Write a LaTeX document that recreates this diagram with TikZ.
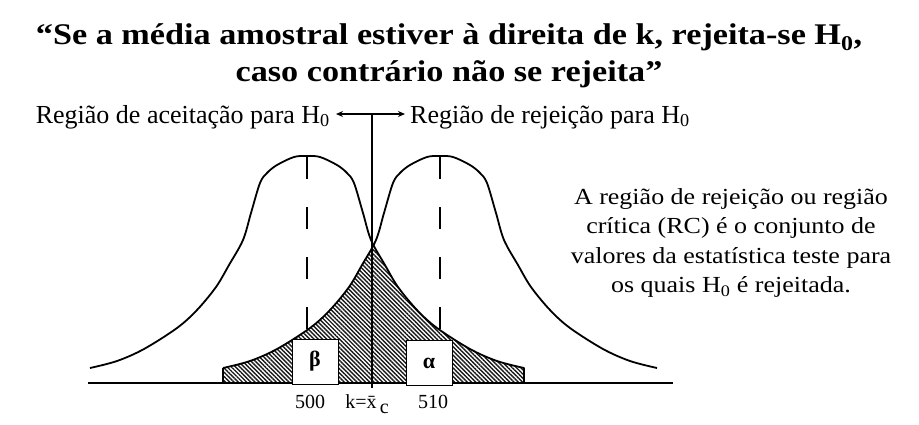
\documentclass[tikz,border=0pt]{standalone}
\usepackage{fontspec}
\usepackage{tikz}
\usetikzlibrary{arrows.meta,positioning,patterns.meta}
\setmainfont{Liberation Serif}
\newfontfamily\palfont{Liberation Serif}[FakeStretch=1.13]
\newfontfamily\ttlfont{Liberation Serif}[FakeStretch=1.14]
\tikzset{
  % one bell curve (pixel units, y downwards), centred at #1
  bell/.style={insert path={plot[smooth, tension=0.55] coordinates {
    (#1-217,368) (#1-190,361) (#1-163,349) (#1-130,328) (#1-110,310) (#1-91,287) (#1-78,265)
    (#1-64,240) (#1-56,213) (#1-47,183) (#1-40,173) (#1-30,165) (#1-13,157) (#1,156)
    (#1+13,157) (#1+30,165) (#1+40,173) (#1+47,183) (#1+56,213) (#1+64,240)
    (#1+78,265) (#1+91,287) (#1+110,310) (#1+130,328) (#1+163,349) (#1+190,361) (#1+217,368)}}},
  crv/.style={black, line width=1.8pt, line join=round},
  mline/.style={black, line width=2pt, dash pattern=on 22pt off 28pt},
  kln/.style={black, line width=1.5pt},
  axl/.style={black, line width=2pt},
  darr/.style={{Stealth[length=7pt,width=6pt]}-{Stealth[length=7pt,width=6pt]}, black, line width=1.5pt},
  hatch/.style={pattern={Lines[angle=-45, distance=3pt, line width=1.4pt]}, pattern color=black!90},
  bx/.style={draw, fill=white, line width=1pt, minimum width=46pt, minimum height=45pt, inner sep=0pt,
    font=\fontsize{22}{22}\selectfont\bfseries},
  lbl/.style={inner sep=0pt, font=\fontsize{26}{30}\selectfont},
  num/.style={inner sep=0pt, font=\fontsize{20}{22}\selectfont, anchor=base},
  ttl/.style={inner sep=0pt, align=center, font=\fontsize{30}{37}\selectfont\ttlfont\bfseries},
  note/.style={inner sep=0pt, align=center, font=\fontsize{23}{29.5}\selectfont\palfont},
}
\begin{document}
\begin{tikzpicture}[x=1pt, y=-1pt]
\useasboundingbox (0,0) rectangle (919,424);
%---- title
\node[ttl] (title) at (449,56) {“Se a média amostral estiver à direita de k, rejeita-se H\textsubscript{0},\\
  caso contrário não se rejeita”};
%---- hatched areas under both curves
\begin{scope}
  \clip[bell=307] -- (524,383) -- (90,383) -- cycle;
  \clip[bell=440] -- (657,383) -- (223,383) -- cycle;
  \fill[hatch] (220,390) rectangle (530,150);
\end{scope}
%---- curves and axis
\draw[crv, bell=307] -- (524,383);
\draw[crv, bell=440];
\draw[crv] (223,368) -- (223,383);
\draw[axl] (88,383) -- (673,383);
\draw[mline] (307,157) -- (307,331);
\draw[mline] (440,157) -- (440,331);
%---- critical value and regions
\coordinate (kTop) at (372,114);
\coordinate (kBot) at (372,388);
\node[lbl, anchor=east] (acc) at (330,117) {Região de aceitação para H\textsubscript{0}};
\node[lbl, anchor=west] (rej) at (410,117) {Região de rejeição para H\textsubscript{0}};
\draw[darr] ([xshift=6pt]acc.east|-kTop) -- ([xshift=-5pt]rej.west|-kTop);
\draw[kln] (kTop) -- (kBot);
%---- error boxes
\node[bx] (beta) at (315,361.5) {β};
\node[bx] (alpha) at (429,363) {α};
%---- axis values
\node[num] (m0) at (310,408) {500};
\node[num] (kc) at (367,408) {k=\={x}\,\raisebox{-5pt}{c}};
\node[num] (m1) at (433,408) {510};
%---- note
\node[note] (rc) at (731,243) {A região de rejeição ou região\\crítica (RC) é o conjunto de\\
  valores da estatística teste para\\os quais H\textsubscript{0} é rejeitada.};
\end{tikzpicture}
\end{document}
